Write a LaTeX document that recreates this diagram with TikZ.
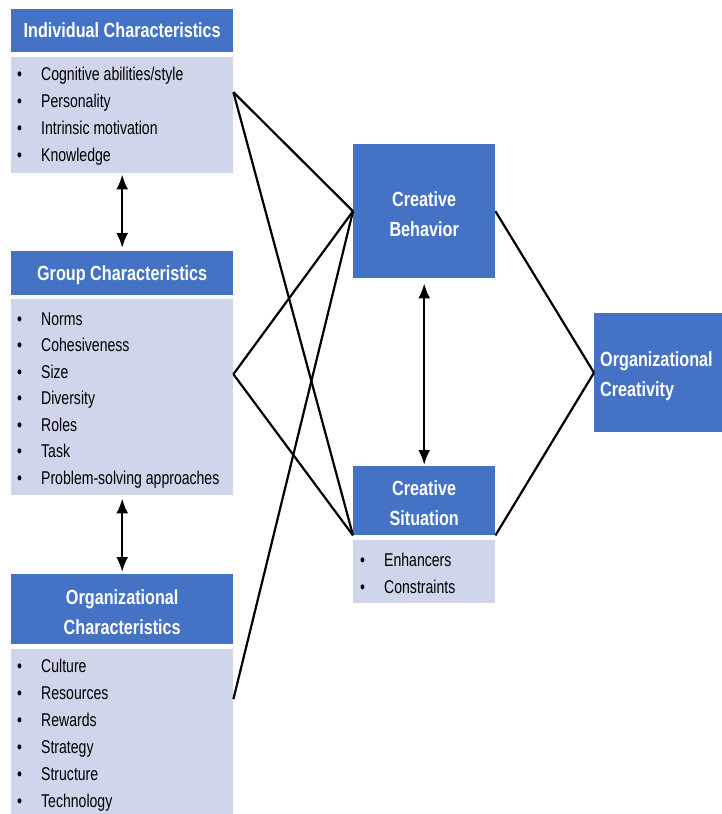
\documentclass[tikz,border=0pt]{standalone}
\usepackage{fontspec}
\setmainfont{Liberation Sans}[FakeStretch=0.76]
\newfontfamily\hdrfont{Liberation Sans}[FakeStretch=0.79]
\usetikzlibrary{arrows.meta}
\definecolor{hblue}{HTML}{4472C4}
\definecolor{lblue}{HTML}{CFD5EA}
\tikzset{
  hdrbox/.style={fill=hblue, draw=none, inner sep=0pt, anchor=north west},
  hdrtxt/.style={inner sep=0pt, text=white, font=\hdrfont\bfseries\fontsize{20.5}{30}\selectfont, align=center},
  bodybox/.style={fill=lblue, draw=none, inner sep=0pt, anchor=north west},
  item/.style={inner sep=0pt, anchor=base west, font=\fontsize{18.5}{20}\selectfont},
  conn/.style={line width=2.2pt, black},
  dbl/.style={line width=2.4pt, black, {Latex[length=15pt,width=12pt]}-{Latex[length=15pt,width=12pt]}}
}
\newcommand{\bul}[1]{\makebox[24pt][l]{\textbullet}#1}
\begin{document}
\begin{tikzpicture}[x=1pt,y=-1pt]
\useasboundingbox (0,0) rectangle (722,814);
% Individual
\node[hdrbox, minimum width=222pt, minimum height=43pt] (ih) at (11,9) {};
\node[hdrtxt] (iht) at ([yshift=0.5pt]ih.center) {Individual Characteristics};
\node[bodybox, minimum width=222pt, minimum height=116pt] (ib) at (11,57) {};
\foreach \t [count=\i] in {Cognitive abilities/style, Personality, Intrinsic motivation, Knowledge}
  \node[item] (it\i) at (17, 80+27*\i-27) {\bul{\t}};
% Group
\node[hdrbox, minimum width=222pt, minimum height=44pt] (gh) at (11,251) {};
\node[hdrtxt] (ght) at ([yshift=-2pt]gh.center) {Group Characteristics};
\node[bodybox, minimum width=222pt, minimum height=196pt] (gb) at (11,299) {};
\foreach \t [count=\i] in {Norms, Cohesiveness, Size, Diversity, Roles, Task, Problem-solving approaches}
  \node[item] (gt\i) at (17, 325+26.5*\i-26.5) {\bul{\t}};
% Organizational
\node[hdrbox, minimum width=222pt, minimum height=70pt] (oh) at (11,574) {};
\node[hdrtxt] (oht) at ([yshift=-3pt]oh.center) {Organizational\\Characteristics};
\node[bodybox, minimum width=222pt, minimum height=170pt] (ob) at (11,649) {};
\foreach \t [count=\i] in {Culture, Resources, Rewards, Strategy, Structure, Technology}
  \node[item] (ot\i) at (17, 672+27*\i-27) {\bul{\t}};
% Creative Behavior
\node[hdrbox, minimum width=142pt, minimum height=134pt] (cb) at (353,144) {};
\node[hdrtxt] (cbt) at ([yshift=-3pt]cb.center) {Creative\\Behavior};
% Creative Situation
\node[hdrbox, minimum width=142pt, minimum height=69pt] (cs) at (353,466) {};
\node[hdrtxt] (cst) at ([yshift=-2.5pt]cs.center) {Creative\\Situation};
\node[bodybox, minimum width=142pt, minimum height=63pt] (csb) at (353,540) {};
\foreach \t [count=\i] in {Enhancers, Constraints}
  \node[item] (st\i) at (360, 566+27*\i-27) {\bul{\t}};
% Organizational Creativity
\node[hdrbox, minimum width=140pt, minimum height=119pt] (oc) at (594,313) {};
\node[hdrtxt, anchor=west, align=left] (oct) at (600,376) {Organizational\\Creativity};
% connection points
\coordinate (pi) at ([yshift=23pt]ib.east);
\coordinate (pg) at ([yshift=23pt]gb.east);
\coordinate (po) at ([yshift=35pt]ob.east);
% connectors
\draw[conn] (pi) -- (cb.west);
\draw[conn] (pi) -- (cs.south west);
\draw[conn] (pg) -- (cb.west);
\draw[conn] (pg) -- (cs.south west);
\draw[conn] (po) -- (cb.west);
\draw[conn] (cb.east) -- (oc.west);
\draw[conn] (cs.south east) -- (oc.west);
% double arrows
\draw[dbl, shorten <=1pt, shorten >=3pt] (ib.south) -- (gh.north);
\draw[dbl, shorten <=3pt, shorten >=2pt] (gb.south) -- (oh.north);
\draw[dbl, shorten <=5pt, shorten >=1pt] (cb.south) -- (cs.north);
\end{tikzpicture}
\end{document}
